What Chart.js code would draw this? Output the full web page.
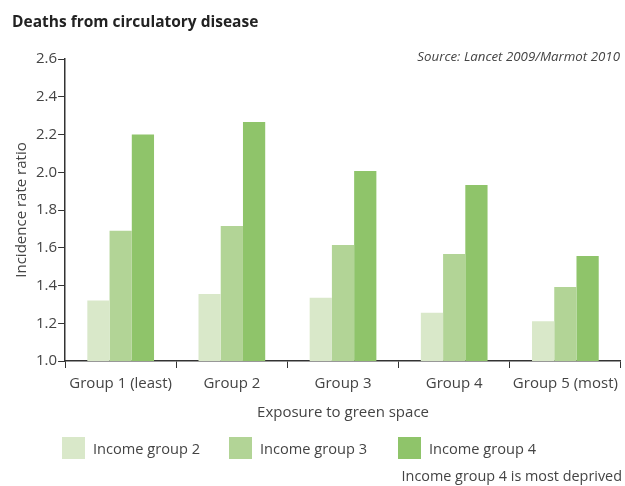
<!DOCTYPE html>
<html>
<head>
<meta charset="utf-8">
<script src="https://cdn.jsdelivr.net/npm/chart.js@4"></script>
<style>
  body { margin: 0; background: #fff; font-family: "Open Sans", sans-serif; color: #333; }
  #wrap { position: relative; width: 625px; height: 486px; }
  #title { position: absolute; left: 12px; top: 10px; font-size: 15.5px; font-weight: bold; color: #222; }
  #source { position: absolute; right: 5px; top: 47px; font-size: 13.3px; font-style: italic; color: #444; }
  #legend { position: absolute; left: 62px; top: 437px; font-size: 14.6px; color: #444; }
  .item { position: absolute; top: 0; white-space: nowrap; line-height: 22px; }
  .box { display: inline-block; width: 23px; height: 22px; vertical-align: top; margin-right: 8px; }
  #note { position: absolute; right: 3px; top: 466px; font-size: 14.4px; color: #444; }
</style>
</head>
<body>
<div id="wrap">
  <canvas id="myChart" width="625" height="486"></canvas>
  <div id="title">Deaths from circulatory disease</div>
  <div id="source">Source: Lancet 2009/Marmot 2010</div>
  <div id="legend"></div>
  <div id="note">Income group 4 is most deprived</div>
</div>
<script>
var categories = ["Group 1 (least)", "Group 2", "Group 3", "Group 4", "Group 5 (most)"];
var seriesNames = ["Income group 2", "Income group 3", "Income group 4"];
var income2 = [1.32, 1.355, 1.335, 1.255, 1.21];
var income3 = [1.69, 1.715, 1.615, 1.567, 1.392];
var income4 = [2.20, 2.266, 2.007, 1.932, 1.556];
var colors = ["#d9e8c9", "#b2d496", "#8fc46a"];
var yTicks = [1.0, 1.2, 1.4, 1.6, 1.8, 2.0, 2.2, 2.4, 2.6];

var values = [income2, income3, income4];
var datasets = [];
for (var i = 0; i < seriesNames.length; i++) {
    datasets.push({
        label: seriesNames[i],
        data: values[i],
        backgroundColor: colors[i],
        borderWidth: 0,
        barPercentage: 1.0,
        categoryPercentage: 0.6
    });
}

// html legend
var legendPos = [0, 167, 336];
var legend = document.getElementById('legend');
for (var j = 0; j < seriesNames.length; j++) {
    var it = document.createElement('div');
    it.className = 'item';
    it.style.left = legendPos[j] + 'px';
    it.innerHTML = '<span class="box" style="background:' + colors[j] + '"></span>' + seriesNames[j];
    legend.appendChild(it);
}

var fam = '"Open Sans", sans-serif';
var axisColor = '#333';
var tickFont = { family: fam, size: 15 };
var ctx = document.getElementById('myChart');
var myBarChart = new Chart(ctx, {
    type: 'bar',
    data: { labels: categories, datasets: datasets },
    options: {
        responsive: false,
        animation: false,
        layout: { padding: { left: 13, right: 1, top: 59, bottom: 64 } },
        plugins: { legend: { display: false }, tooltip: { enabled: false } },
        scales: {
            x: {
                grid: { drawOnChartArea: false, color: axisColor, tickLength: 7, offset: true },
                border: { color: axisColor, width: 1.5 },
                ticks: { color: '#444', font: tickFont, padding: 7 },
                title: { display: true, text: 'Exposure to green space', color: '#444',
                         font: tickFont, padding: { top: 4, bottom: 0 } }
            },
            y: {
                min: 1.0,
                max: 2.6,
                afterBuildTicks: function (axis) {
                    axis.ticks = yTicks.map(function (v) { return { value: v }; });
                },
                grid: { drawOnChartArea: false, color: axisColor, tickLength: 7 },
                border: { color: axisColor, width: 1.5 },
                ticks: {
                    color: '#444', font: tickFont, padding: 1,
                    callback: function (v) { return v.toFixed(1); }
                },
                title: { display: true, text: 'Incidence rate ratio', color: '#444',
                         font: tickFont, padding: { top: 0, bottom: 4 } }
            }
        }
    }
});
</script>
</body>
</html>
